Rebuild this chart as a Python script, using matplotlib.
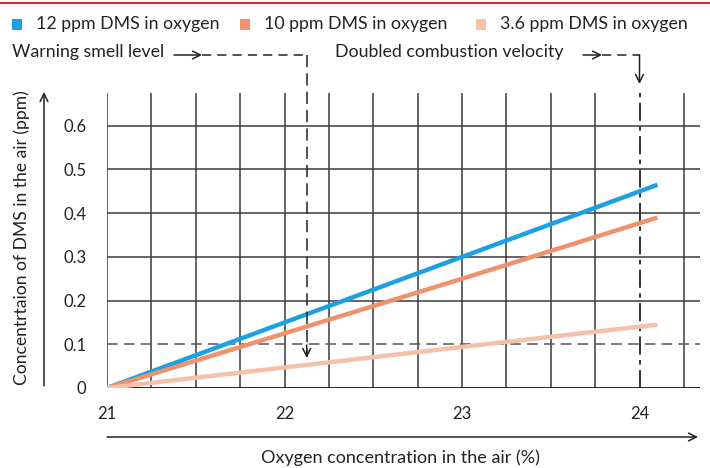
import numpy as np
import matplotlib
matplotlib.use('Agg')
import matplotlib.pyplot as plt
from matplotlib.lines import Line2D
from matplotlib.patches import Rectangle, FancyArrowPatch

plt.rcParams['font.family'] = ['Lato', 'DejaVu Sans']

# data
oxygen = [21, 22, 23, 24.1]
dms_12 = [0, 0.15, 0.30, 0.465]
dms_10 = [0, 0.125, 0.25, 0.39]
dms_36 = [0, 0.047, 0.094, 0.145]
series_names = ['12 ppm DMS in oxygen', '10 ppm DMS in oxygen', '3.6 ppm DMS in oxygen']
series_colors = ['#1ba1e2', '#f0916d', '#f6c1aa']
x_ticks = [21, 22, 23, 24]
y_ticks = [0, 0.1, 0.2, 0.3, 0.4, 0.5, 0.6]
warning_x = 22.125
doubled_x = 24

W, H = 710, 468
fig = plt.figure(figsize=(W / 100, H / 100), dpi=100)

def fx(px):
    return px / W

def fy(py):
    return 1 - py / H

# axes: 21 at px 107, 0 at py 388, top at py 93, right at px 700
ax = fig.add_axes([fx(107), fy(388), (700 - 107) / W, (388 - 93) / H])
ax.set_xlim(21, 24.34)
ax.set_ylim(0, 0.675)
for s in ax.spines.values():
    s.set_visible(False)

# grid
grid_col = '#3a3a3a'
for gx in np.arange(21, 24.26, 0.25):
    if abs(gx - doubled_x) < 1e-9:
        continue
    ax.axvline(gx, color=grid_col, lw=1.1, zorder=1)
ax.axvline(doubled_x, color='#222222', lw=1.3, dashes=(10, 3, 2.5, 3), zorder=1)
for gy in y_ticks[2:]:
    ax.axhline(gy, color=grid_col, lw=1.1, zorder=1)
ax.axhline(0.1, color='#555555', lw=1.1, dashes=(7, 4), zorder=1)
ax.axhline(0, color='#222222', lw=1.4, zorder=2)

# series
for ys, c in zip([dms_12, dms_10, dms_36], series_colors):
    ax.plot(oxygen, ys, color=c, lw=3.2, solid_capstyle='butt', zorder=3)

ax.set_xticks(x_ticks)
ax.set_xticklabels([str(t) for t in x_ticks])
ax.set_yticks(y_ticks)
ax.set_yticklabels(['0'] + [f'{t:.1f}' for t in y_ticks[1:]])
ax.tick_params(length=0, labelsize=12, colors='#222222')
ax.tick_params(axis='x', pad=13)
ax.tick_params(axis='y', pad=15)

# red rule at top
fig.add_artist(Line2D([0, 1], [fy(3), fy(3)], color='#e3262b', lw=1.5))

# legend
leg_x = [12, 240, 476]
for lx, name, c in zip(leg_x, series_names, series_colors):
    fig.add_artist(Rectangle((fx(lx), fy(30)), 10 / W, 11 / H, color=c, lw=0))
    fig.text(fx(lx + 24), fy(24), name, fontsize=12.8, va='center', ha='left', color='#222222')

# annotations
txt_kw = dict(fontsize=12.8, va='center', ha='left', color='#222222')
fig.text(fx(12), fy(52), 'Warning smell level', **txt_kw)
fig.text(fx(335), fy(52), 'Doubled combustion velocity', **txt_kw)

arr = dict(arrowstyle='->', color='#222222', lw=1.1, mutation_scale=14, shrinkA=0, shrinkB=0)
fig.add_artist(FancyArrowPatch((fx(174), fy(55)), (fx(202), fy(55)), **arr))
fig.add_artist(FancyArrowPatch((fx(583), fy(55)), (fx(602), fy(55)), **arr))

# warning dashed path
wpx = 107 + (warning_x - 21) * 177.5
fig.add_artist(Line2D([fx(202), fx(wpx)], [fy(55), fy(55)], color='#222222', lw=1.1, dashes=(6, 4)))
fig.add_artist(Line2D([fx(wpx), fx(wpx)], [fy(55), fy(357)], color='#222222', lw=1.1, dashes=(8, 4)))
fig.add_artist(FancyArrowPatch((fx(wpx), fy(345)), (fx(wpx), fy(358)), **arr))

# doubled dashed path
dpx = 107 + (doubled_x - 21) * 177.5
fig.add_artist(Line2D([fx(602), fx(dpx)], [fy(55), fy(55)], color='#222222', lw=1.1, dashes=(6, 4)))
fig.add_artist(FancyArrowPatch((fx(dpx), fy(55)), (fx(dpx), fy(84)), **arr))

# axis arrows
fig.add_artist(FancyArrowPatch((fx(44), fy(386)), (fx(44), fy(92)), **arr))
fig.add_artist(FancyArrowPatch((fx(107), fy(437)), (fx(698), fy(437)), **arr))

fig.text(fx(22), fy(238), 'Concentrtaion of DMS in the air (ppm)', rotation=90,
         fontsize=12.6, va='center', ha='center', color='#222222')
fig.text(fx(400), fy(458), 'Oxygen concentration in the air (%)',
         fontsize=13, va='center', ha='center', color='#222222')

fig.savefig('out.png', dpi=100)
